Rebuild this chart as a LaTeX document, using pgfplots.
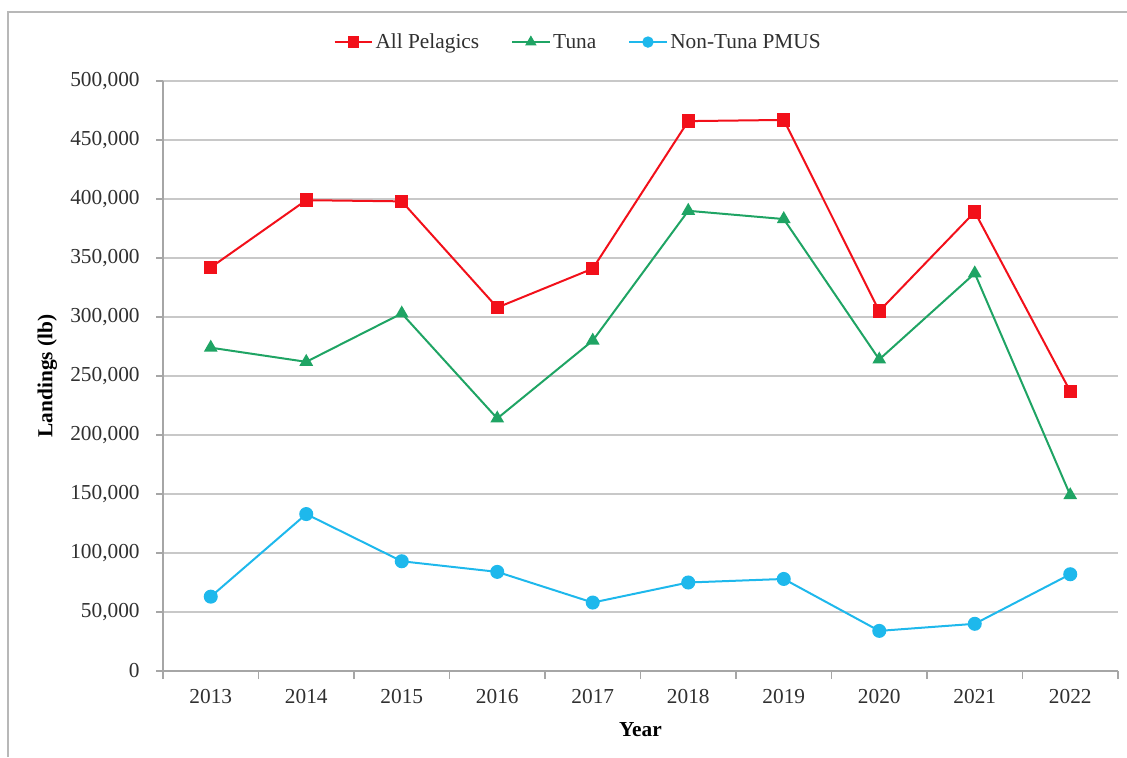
\documentclass[border=0pt]{standalone}
\usepackage{fontspec}
\setmainfont{Liberation Serif}
\usepackage{pgfplots}
\pgfplotsset{compat=1.18}
\definecolor{cRed}{HTML}{F2101A}
\definecolor{cGreen}{HTML}{1FA464}
\definecolor{cCyan}{HTML}{1EB8EC}
\definecolor{cAxis}{HTML}{A6A6A6}
\definecolor{cGrid}{HTML}{C8C8C8}
\definecolor{cText}{HTML}{303030}
\begin{document}
\begin{tikzpicture}[x=0.75pt,y=0.75pt]
\useasboundingbox (0,0) rectangle (1127,757);
\draw[cAxis!80, line width=1.2pt] (8,0) -- (8,745) -- (1127,745);
\begin{axis}[
    at={(122.25pt,64.5pt)}, anchor=south west,
    scale only axis,
    width=716.25pt, height=442.5pt,
    font=\fontsize{16}{19}\selectfont,
    scaled y ticks=false,
    xmin=-0.5, xmax=9.5,
    ymin=0, ymax=500000,
    ytick={0,50000,100000,150000,200000,250000,300000,350000,400000,450000,500000},
    yticklabels={0,{50,000},{100,000},{150,000},{200,000},{250,000},{300,000},{350,000},{400,000},{450,000},{500,000}},
    xtick={0,...,9},
    xticklabels={2013,2014,2015,2016,2017,2018,2019,2020,2021,2022},
    tick label style={text=cText},
    yticklabel style={xshift=-9pt},
    xticklabel style={yshift=-5pt},
    major x tick style={draw=none},
    minor xtick={-0.5,0.5,...,9.5},
    minor tick length=6pt,
    major tick length=5pt,
    tick align=outside,
    axis x line*=bottom, axis y line*=left,
    axis line style={cAxis, line width=1pt},
    tick style={cAxis, line width=1pt},
    ymajorgrids, grid style={cGrid, line width=1pt},
    xlabel={\textbf{Year}},
    ylabel={\textbf{Landings (lb)}},
    xlabel style={at={(axis description cs:0.5,-0.1)}, anchor=center},
    ylabel style={at={(axis description cs:-0.121,0.5)}, anchor=center},
    legend columns=3,
    legend style={at={(axis description cs:0.435,1.066)}, anchor=center, draw=none, fill=none,
      text=cText, /tikz/every even column/.append style={column sep=22pt}},
    legend image code/.code={\draw[mark repeat=2,mark phase=2,mark size=3.5pt] plot coordinates {(0pt,0pt) (14pt,0pt) (28pt,0pt)};},
    legend cell align=left,
]
\addplot[cRed, line width=1.5pt, mark=square*, mark size=4.3pt] coordinates {
(0,342000) (1,399000) (2,398000) (3,308000) (4,341000)
(5,466000) (6,467000) (7,305000) (8,389000) (9,237000)};
\addlegendentry{All Pelagics}
\addplot[cGreen, line width=1.5pt, mark=triangle*, mark size=4.5pt] coordinates {
(0,274000) (1,262000) (2,303000) (3,214000) (4,280000)
(5,390000) (6,383000) (7,264000) (8,337000) (9,149000)};
\addlegendentry{Tuna}
\addplot[cCyan, line width=1.5pt, mark=*, mark size=4.5pt] coordinates {
(0,63000) (1,133000) (2,93000) (3,84000) (4,58000)
(5,75000) (6,78000) (7,34000) (8,40000) (9,82000)};
\addlegendentry{Non-Tuna PMUS}
\end{axis}
\end{tikzpicture}
\end{document}
